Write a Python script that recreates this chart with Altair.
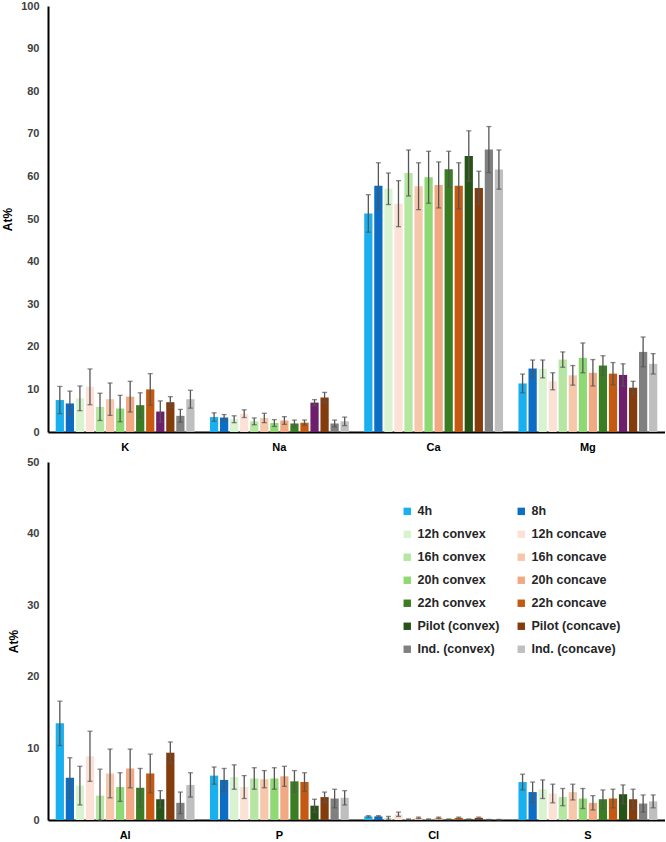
import altair as alt
import pandas as pd

# Sample series, in bar order within each element group
series = [
    "4h", "8h", "12h convex", "12h concave", "16h convex", "16h concave",
    "20h convex", "20h concave", "22h convex", "22h concave",
    "Pilot (convex)", "Pilot (concave)", "Ind. (convex)", "Ind. (concave)",
]
colours = [
    "#1AAFEF", "#0B6DC3", "#D9F2D0", "#FBE1D6", "#B5E6A2", "#F7C7AC",
    "#8ED973", "#F1A983", "#3B7D23", "#C65911",
    "#275317", "#843C0C", "#808080", "#BFBFBF",
]
pilot_purple = "#6E1F6B"

top_elements = ["K", "Na", "Ca", "Mg"]
bottom_elements = ["Al", "P", "Cl", "S"]
# elements whose Pilot (convex) bar is drawn in purple
purple_elements = ["K", "Na", "Mg"]

# mean At% and standard deviation, one value per series
K_mean = [7.5, 6.7, 7.9, 10.6, 5.9, 7.7, 5.5, 8.3, 6.3, 10.0, 4.8, 7.0, 3.8, 7.7]
K_sd = [3.2, 2.9, 2.9, 4.2, 3.2, 3.8, 3.1, 3.6, 2.9, 3.7, 2.5, 1.3, 1.5, 2.1]
Na_mean = [3.5, 3.4, 3.0, 4.3, 2.5, 3.3, 2.1, 2.7, 2.0, 2.2, 6.9, 8.1, 2.0, 2.5]
Na_sd = [1.0, 0.7, 0.8, 0.9, 0.8, 1.1, 0.8, 0.9, 0.8, 0.6, 0.7, 1.2, 0.8, 1.0]
Ca_mean = [51.3, 57.8, 57.1, 53.6, 60.8, 57.7, 59.8, 58.0, 61.7, 57.8, 64.8, 57.3, 66.3, 61.6]
Ca_sd = [4.4, 5.4, 3.7, 5.4, 5.4, 5.5, 6.1, 5.4, 4.2, 5.4, 5.9, 3.9, 5.4, 4.6]
Mg_mean = [11.4, 14.9, 14.8, 11.9, 17.0, 13.3, 17.4, 13.9, 15.6, 13.7, 13.4, 10.4, 18.8, 16.0]
Mg_sd = [2.2, 2.0, 2.1, 2.0, 1.8, 2.3, 3.5, 3.1, 2.3, 2.6, 2.6, 1.5, 3.5, 2.4]
Al_mean = [13.5, 5.9, 4.8, 8.9, 3.4, 6.5, 4.6, 7.2, 4.5, 6.5, 2.9, 9.4, 2.4, 4.9]
Al_sd = [3.1, 2.8, 2.7, 3.5, 3.7, 3.4, 2.0, 2.7, 2.7, 2.7, 1.2, 1.5, 1.5, 1.7]
P_mean = [6.2, 5.6, 6.0, 4.6, 5.8, 5.7, 5.8, 6.1, 5.4, 5.3, 2.0, 3.2, 3.0, 3.1]
P_sd = [1.2, 1.6, 1.7, 1.6, 1.5, 1.2, 1.5, 1.4, 1.5, 1.3, 0.9, 0.7, 1.3, 1.0]
Cl_mean = [0.5, 0.5, 0.3, 0.8, 0.1, 0.3, 0.1, 0.3, 0.1, 0.3, 0.1, 0.3, 0.05, 0.05]
Cl_sd = [0.1, 0.1, 0.2, 0.3, 0.05, 0.1, 0.05, 0.1, 0.05, 0.1, 0.05, 0.1, 0.03, 0.03]
S_mean = [5.3, 3.9, 4.3, 3.7, 3.2, 3.9, 3.0, 2.4, 2.9, 3.0, 3.6, 2.9, 2.3, 2.6]
S_sd = [1.1, 1.4, 1.3, 1.3, 1.2, 1.1, 1.4, 1.0, 1.3, 1.3, 1.3, 1.4, 1.2, 0.9]

measurements = {
    "K": (K_mean, K_sd), "Na": (Na_mean, Na_sd),
    "Ca": (Ca_mean, Ca_sd), "Mg": (Mg_mean, Mg_sd),
    "Al": (Al_mean, Al_sd), "P": (P_mean, P_sd),
    "Cl": (Cl_mean, Cl_sd), "S": (S_mean, S_sd),
}


def frame(elements):
    rows = []
    for el in elements:
        means, sds = measurements[el]
        for s, m, sd in zip(series, means, sds):
            rows.append({
                "element": el, "series": s, "mean": m,
                "lo": max(m - sd, 0), "hi": m + sd,
                "purple": el in purple_elements and s == "Pilot (convex)",
            })
    return pd.DataFrame(rows)


def panel(elements, ymax, height, legend):
    df = frame(elements)
    x = alt.X(
        "element:N", sort=elements, title=None,
        scale=alt.Scale(paddingInner=0.1, paddingOuter=0.05),
        axis=alt.Axis(labelAngle=0, labelPadding=9),
    )
    xo = alt.XOffset("series:N", sort=series, scale=alt.Scale(paddingInner=0.18))
    yscale = alt.Scale(domain=[0, ymax])
    yaxis = alt.Axis(title="At%", values=list(range(0, ymax + 1, 10)))
    base = alt.Chart(df).encode(x=x, xOffset=xo)

    colour = alt.Color(
        "series:N", sort=series,
        scale=alt.Scale(domain=series, range=colours),
        legend=legend,
    )
    bars = base.mark_bar().encode(
        y=alt.Y("mean:Q", scale=yscale, axis=yaxis),
        color=alt.condition("datum.purple", alt.value(pilot_purple), colour),
    )
    whisker = base.mark_rule(color="#555555", strokeWidth=1.3).encode(
        y=alt.Y("lo:Q", scale=yscale, axis=yaxis), y2="hi:Q"
    )
    cap_lo = base.mark_tick(color="#555555", thickness=1.3, size=5).encode(
        y=alt.Y("lo:Q", scale=yscale, axis=yaxis)
    )
    cap_hi = base.mark_tick(color="#555555", thickness=1.3, size=5).encode(
        y=alt.Y("hi:Q", scale=yscale, axis=yaxis)
    )
    return alt.layer(bars, whisker, cap_lo, cap_hi).properties(width=617, height=height)


series_legend = alt.Legend(
    title=None, orient="none", legendX=353, legendY=43, columns=2,
    direction="horizontal",
    symbolType="square", symbolSize=55, symbolStrokeWidth=0,
    labelFontSize=12.5, labelFontWeight="bold", labelColor="#262626",
    labelFont="Liberation Sans", rowPadding=10, columnPadding=15, labelOffset=4,
)

top = panel(top_elements, 100, 426, None)
bottom = panel(bottom_elements, 50, 358, series_legend).resolve_scale(color="independent")

chart = (
    alt.vconcat(top, bottom, spacing=30, bounds="flush")
    .resolve_scale(color="independent")
    .properties(padding={"left": 1, "top": 0, "right": 0, "bottom": 2})
    .configure_view(stroke=None)
    .configure_axis(
        grid=False, ticks=False, domainColor="#000000", domainWidth=2,
        labelFont="Liberation Sans", labelFontWeight="bold", labelFontSize=11,
        labelColor="#404040", titleFont="Liberation Sans", titleFontWeight="bold",
        titleFontSize=12, titleColor="#000000",
    )
    .configure_axisY(labelPadding=9, titlePadding=6)
    .configure_axisX(labelColor="#000000")
)

chart.save("out.html", embed_options={"renderer": "svg", "actions": False})
